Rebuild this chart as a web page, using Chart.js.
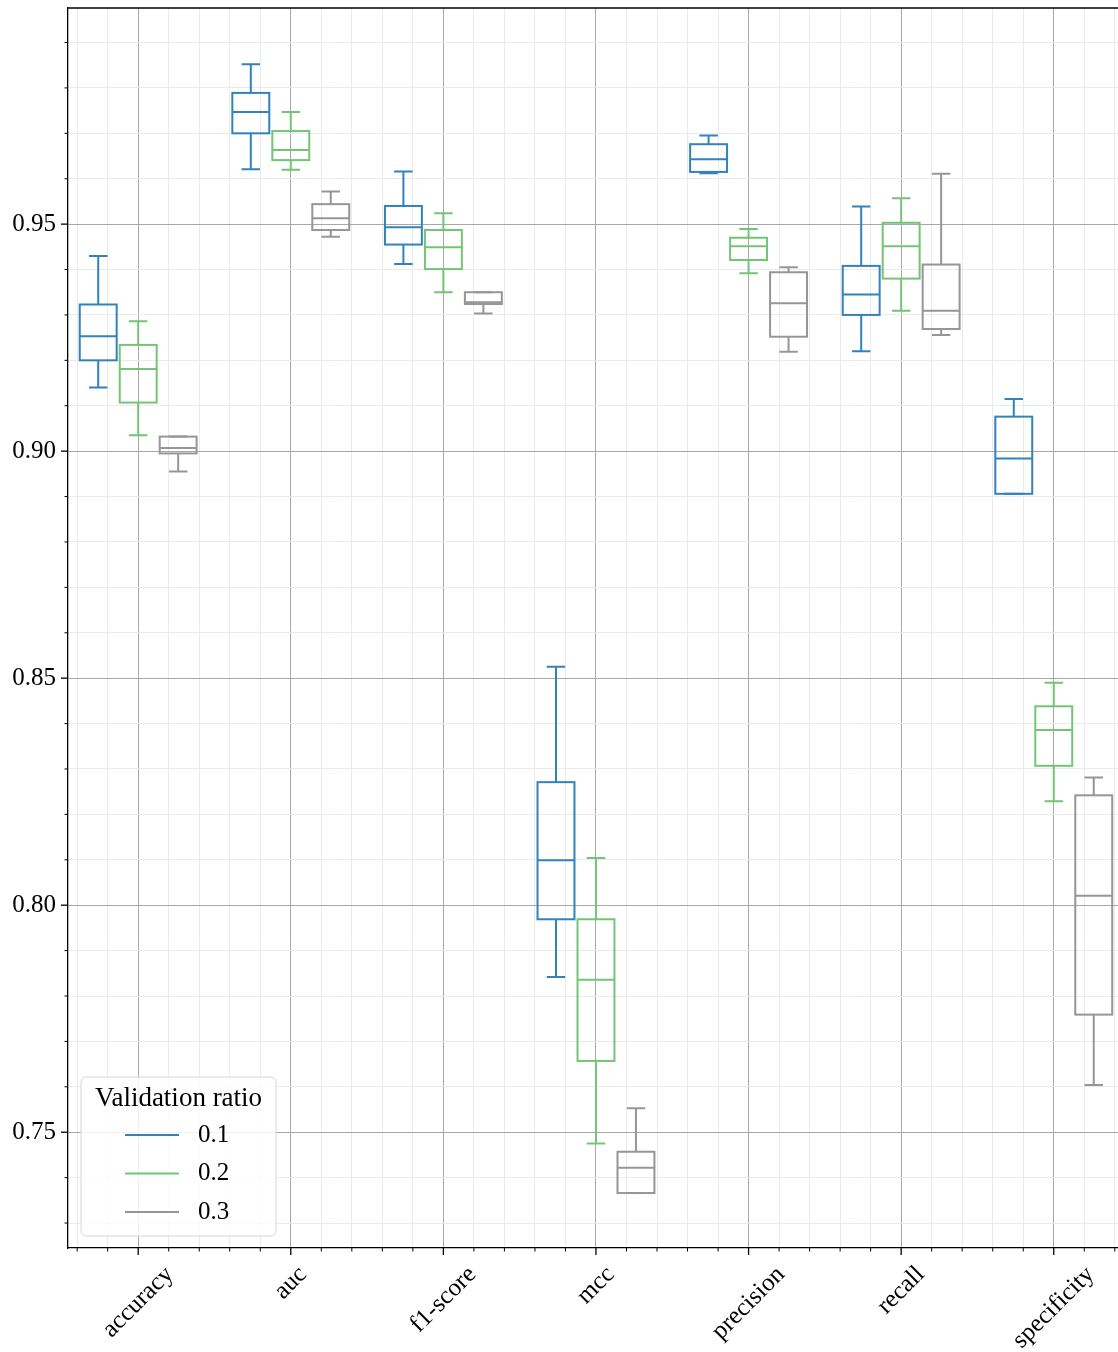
<!DOCTYPE html>
<html>
<head>
<meta charset="utf-8">
<script src="https://cdn.jsdelivr.net/npm/chart.js@4.4.1/dist/chart.umd.min.js"></script>
<style>
  html, body { margin: 0; padding: 0; background: #fff; }
  #wrap { position: relative; width: 1118px; height: 1352px; }
</style>
</head>
<body>
<div id="wrap"><canvas id="boxChart"></canvas></div>
<script>
const metrics = ["accuracy", "auc", "f1-score", "mcc", "precision", "recall", "specificity"];
const ratios = ["0.1", "0.2", "0.3"];
const colors = ["#3182bd", "#74c476", "#969696"];
const yTickLabels = ["0.75", "0.80", "0.85", "0.90", "0.95"];

// validation ratio 0.1 : whisker low, Q1, median, Q3, whisker high
const low1 = [0.9140, 0.9621, 0.9412, 0.7842, 0.9612, 0.9220, 0.8906];
const q1_1 = [0.9200, 0.9700, 0.9455, 0.7969, 0.9615, 0.9300, 0.8906];
const med1 = [0.9253, 0.9747, 0.9493, 0.8099, 0.9643, 0.9345, 0.8984];
const q3_1 = [0.9323, 0.9789, 0.9540, 0.8271, 0.9676, 0.9408, 0.9076];
const high1 = [0.9430, 0.9852, 0.9616, 0.8525, 0.9695, 0.9539, 0.9115];

// validation ratio 0.2
const low2 = [0.9035, 0.9620, 0.9350, 0.7475, 0.9392, 0.9309, 0.8229];
const q1_2 = [0.9107, 0.9641, 0.9401, 0.7657, 0.9421, 0.9380, 0.8307];
const med2 = [0.9181, 0.9663, 0.9449, 0.7836, 0.9451, 0.9451, 0.8386];
const q3_2 = [0.9234, 0.9705, 0.9487, 0.7969, 0.9470, 0.9503, 0.8438];
const high2 = [0.9286, 0.9747, 0.9524, 0.8104, 0.9489, 0.9557, 0.8490];

// validation ratio 0.3
const low3 = [0.8955, 0.9472, 0.9303, 0.7366, 0.9219, 0.9256, 0.7604];
const q1_3 = [0.8995, 0.9487, 0.9324, 0.7366, 0.9252, 0.9269, 0.7759];
const med3 = [0.9007, 0.9513, 0.9328, 0.7422, 0.9326, 0.9309, 0.8021];
const q3_3 = [0.9032, 0.9544, 0.9350, 0.7457, 0.9394, 0.9411, 0.8242];
const high3 = [0.9032, 0.9572, 0.9350, 0.7553, 0.9405, 0.9611, 0.8281];

const stats = [
  { low: low1, q1: q1_1, med: med1, q3: q3_1, high: high1 },
  { low: low2, q1: q1_2, med: med2, q3: q3_2, high: high2 },
  { low: low3, q1: q1_3, med: med3, q3: q3_3, high: high3 },
];

const offsets = [-0.262, 0, 0.262];
const boxHalf = 0.121;
const serif = '"Liberation Serif", "Times New Roman", serif';
const font = "25px " + serif;
const titleFont = "27px " + serif;
const majorGrid = "#a8a8a8";
const minorGrid = "#ebebeb";

const xTickValues = [];
for (let k = -2; k <= 32; k++) xTickValues.push(k / 5);
const yTickValues = [];
for (let k = 73; k <= 99; k++) yTickValues.push(k / 100);

const isMajorX = (v) => Math.abs(v - Math.round(v)) < 1e-6;
const isMajorY = (v) => Math.abs(v * 20 - Math.round(v * 20)) < 1e-6;

const boxPlugin = {
  id: "boxes",
  afterDatasetsDraw(chart) {
    const { ctx, scales: { x, y } } = chart;
    ctx.save();
    ctx.lineWidth = 2;
    stats.forEach((s, r) => {
      ctx.strokeStyle = colors[r];
      metrics.forEach((m, i) => {
        const c = i + offsets[r];
        const xc = x.getPixelForValue(c);
        const xl = x.getPixelForValue(c - boxHalf);
        const xr = x.getPixelForValue(c + boxHalf);
        const cl = x.getPixelForValue(c - boxHalf / 2);
        const cr = x.getPixelForValue(c + boxHalf / 2);
        const yLo = y.getPixelForValue(s.low[i]);
        const yQ1 = y.getPixelForValue(s.q1[i]);
        const yMed = y.getPixelForValue(s.med[i]);
        const yQ3 = y.getPixelForValue(s.q3[i]);
        const yHi = y.getPixelForValue(s.high[i]);
        ctx.beginPath();
        ctx.moveTo(xc, yQ1); ctx.lineTo(xc, yLo);
        ctx.moveTo(xc, yQ3); ctx.lineTo(xc, yHi);
        ctx.moveTo(cl, yLo); ctx.lineTo(cr, yLo);
        ctx.moveTo(cl, yHi); ctx.lineTo(cr, yHi);
        ctx.stroke();
        ctx.strokeRect(xl, yQ3, xr - xl, yQ1 - yQ3);
        ctx.beginPath();
        ctx.moveTo(xl, yMed); ctx.lineTo(xr, yMed);
        ctx.stroke();
      });
    });
    ctx.restore();
  },
  afterDraw(chart) {
    const { ctx, chartArea: a, scales: { x, y } } = chart;
    ctx.save();
    // tick marks
    ctx.strokeStyle = "#000";
    x.ticks.forEach((t) => {
      const px = x.getPixelForValue(t.value);
      const major = isMajorX(t.value);
      ctx.lineWidth = major ? 1.3 : 1;
      ctx.beginPath();
      ctx.moveTo(px, a.bottom);
      ctx.lineTo(px, a.bottom + (major ? 7 : 3.5));
      ctx.stroke();
    });
    y.ticks.forEach((t) => {
      const py = y.getPixelForValue(t.value);
      const major = isMajorY(t.value);
      ctx.lineWidth = major ? 1.3 : 1;
      ctx.beginPath();
      ctx.moveTo(a.left, py);
      ctx.lineTo(a.left - (major ? 7 : 3.5), py);
      ctx.stroke();
    });
    // top spine
    ctx.lineWidth = 1.3;
    ctx.beginPath();
    ctx.moveTo(a.left, a.top);
    ctx.lineTo(a.right, a.top);
    ctx.stroke();

    // rotated category labels, centred under each tick
    ctx.font = font;
    ctx.fillStyle = "#000";
    ctx.textAlign = "center";
    ctx.textBaseline = "middle";
    metrics.forEach((m, i) => {
      const px = x.getPixelForValue(i);
      const w = ctx.measureText(m).width;
      const half = (w + 22) * Math.SQRT1_2 / 2;
      ctx.save();
      ctx.translate(px, a.bottom + 15 + half);
      ctx.rotate(-Math.PI / 4);
      ctx.fillText(m, 0, 0);
      ctx.restore();
    });

    // legend
    const lx = a.left + 13, lw = 195;
    const lb = a.bottom - 12, lh = 159;
    const ly = lb - lh;
    ctx.beginPath();
    ctx.roundRect(lx, ly, lw, lh, 5);
    ctx.fillStyle = "rgba(255,255,255,0.85)";
    ctx.fill();
    ctx.strokeStyle = "#d6d6d6";
    ctx.lineWidth = 1;
    ctx.stroke();
    ctx.fillStyle = "#000";
    ctx.textAlign = "center";
    ctx.font = titleFont;
    ctx.fillText("Validation ratio", lx + lw / 2, ly + 22);
    ctx.font = font;
    ctx.textAlign = "left";
    chart.data.datasets.forEach((ds, k) => {
      const ry = ly + 58 + k * 38.5;
      ctx.strokeStyle = ds.borderColor;
      ctx.lineWidth = 2;
      ctx.beginPath();
      ctx.moveTo(lx + 44, ry);
      ctx.lineTo(lx + 98, ry);
      ctx.stroke();
      ctx.fillStyle = "#000";
      ctx.fillText(ds.label, lx + 117, ry);
    });
    ctx.restore();
  },
};

const datasets = ratios.map((r, k) => ({
  label: r,
  borderColor: colors[k],
  backgroundColor: colors[k],
  pointRadius: 0,
  pointHoverRadius: 0,
  showLine: false,
  data: metrics.map((m, i) => ({ x: i + offsets[k], y: stats[k].med[i] })),
}));

new Chart(document.getElementById("boxChart"), {
  type: "scatter",
  data: { datasets: datasets },
  plugins: [boxPlugin],
  options: {
    responsive: true,
    maintainAspectRatio: false,
    animation: false,
    events: [],
    layout: { padding: { top: 8, left: 0, right: 0, bottom: 0 } },
    plugins: {
      legend: { display: false },
      tooltip: { enabled: false },
    },
    scales: {
      x: {
        type: "linear",
        min: -0.46,
        max: 6.421,
        afterBuildTicks: (s) => { s.ticks = xTickValues.map((v) => ({ value: v })); },
        afterFit: (s) => { s.height = 104; s.paddingLeft = 0; s.paddingRight = 0; },
        ticks: { display: false },
        grid: {
          drawTicks: false,
          lineWidth: 1,
          color: (c) => (c.tick && isMajorX(c.tick.value) ? majorGrid : minorGrid),
        },
        border: { display: true, color: "#000", width: 1.3 },
      },
      y: {
        min: 0.7245,
        max: 0.9976,
        afterBuildTicks: (s) => { s.ticks = yTickValues.map((v) => ({ value: v })); },
        afterFit: (s) => { s.width = 68; s.paddingTop = 0; s.paddingBottom = 0; },
        ticks: {
          padding: 12,
          color: "#000",
          font: { family: serif, size: 25 },
          callback: (v) => yTickLabels.find((l) => Math.abs(parseFloat(l) - v) < 1e-6) || "",
        },
        grid: {
          drawTicks: false,
          lineWidth: 1,
          color: (c) => (c.tick && isMajorY(c.tick.value) ? majorGrid : minorGrid),
        },
        border: { display: true, color: "#000", width: 1.3 },
      },
    },
  },
});
</script>
</body>
</html>
